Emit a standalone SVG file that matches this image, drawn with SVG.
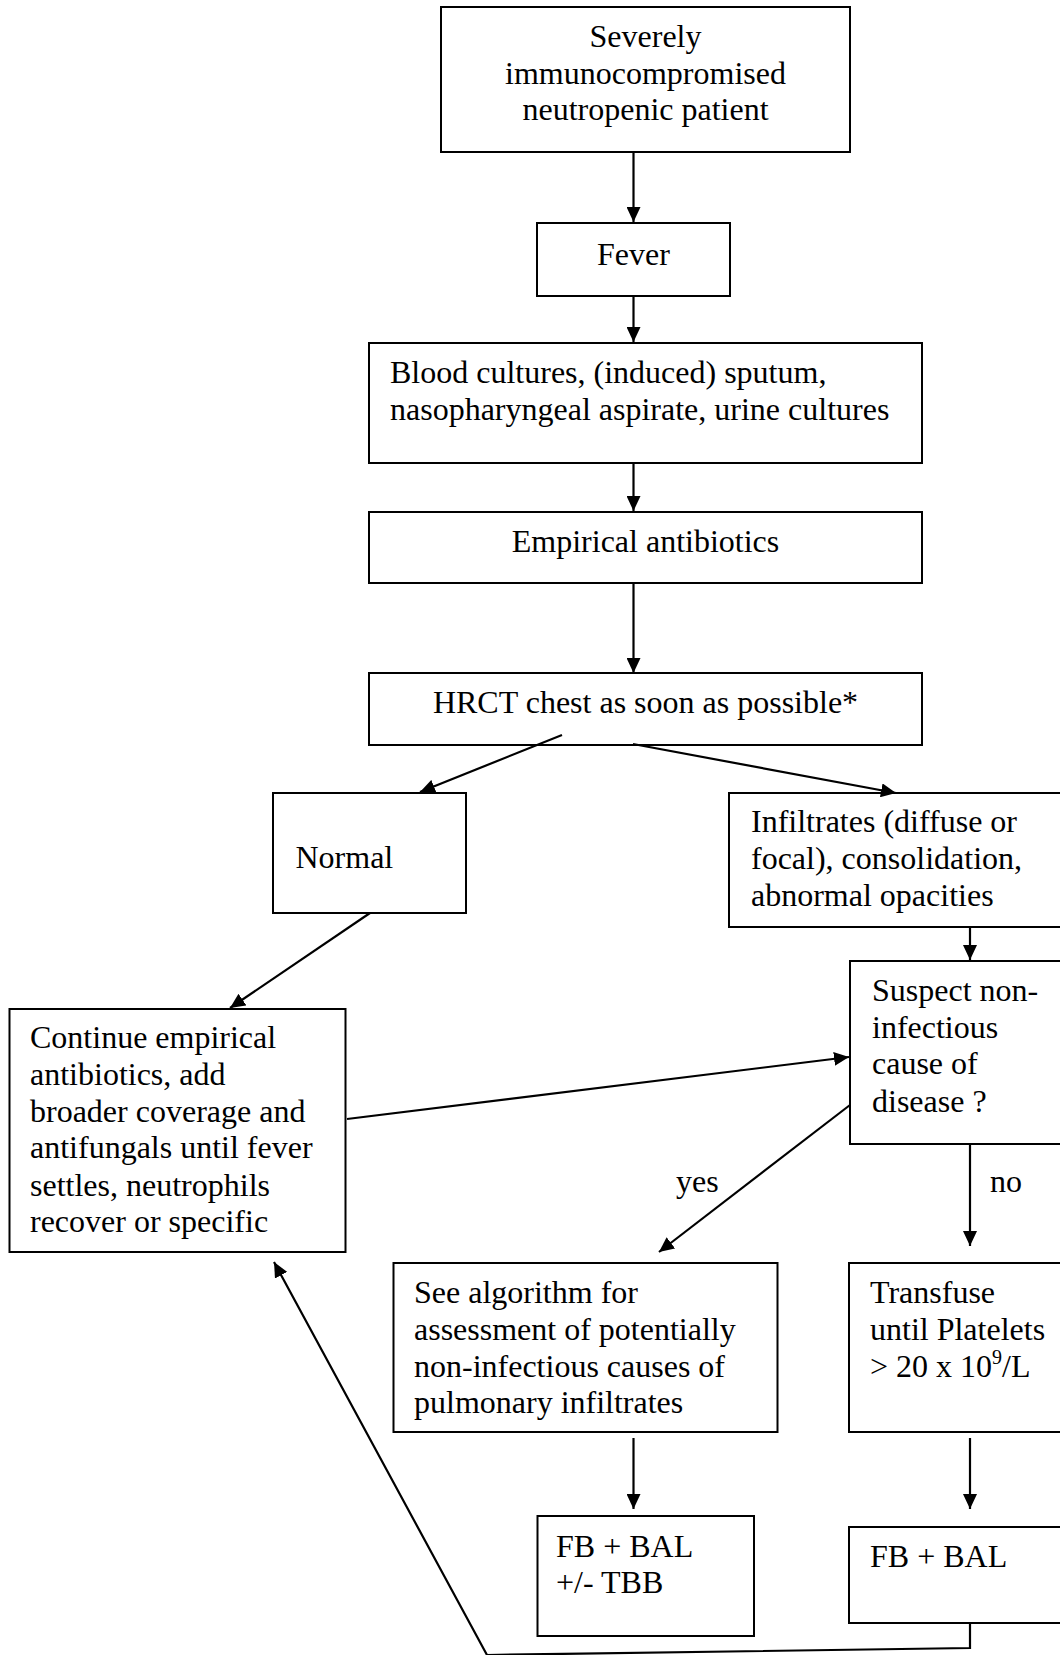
<svg xmlns="http://www.w3.org/2000/svg" width="1060" height="1655" viewBox="0 0 1060 1655">
<style>
.box{fill:#fff;stroke:#000;stroke-width:2}
.t{font-family:"Liberation Serif","Times New Roman",serif;font-size:32px;fill:#000}
.c{text-anchor:middle}
.ln{fill:none;stroke:#000;stroke-width:2.2}
</style>
<defs>
<marker id="ah" markerWidth="15" markerHeight="14" refX="15" refY="7" orient="auto" markerUnits="userSpaceOnUse">
<path d="M0,0 L15,7 L0,14 z" fill="#000"/>
</marker>
</defs>
<rect width="1060" height="1655" fill="#fff"/>
<g id="n-patient">
<rect class="box" x="441" y="7" width="409" height="145"/>
<text class="t c" x="645.5" y="47">Severely</text>
<text class="t c" x="645.5" y="84">immunocompromised</text>
<text class="t c" x="645.5" y="120">neutropenic patient</text>
</g>
<g id="n-fever">
<rect class="box" x="537" y="223" width="193" height="73"/>
<text class="t c" x="633.5" y="265">Fever</text>
</g>
<g id="n-cultures">
<rect class="box" x="369" y="343" width="553" height="120"/>
<text class="t" x="390" y="383">Blood cultures, (induced) sputum,</text>
<text class="t" x="390" y="420">nasopharyngeal aspirate, urine cultures</text>
</g>
<g id="n-empirical">
<rect class="box" x="369" y="512" width="553" height="71"/>
<text class="t c" x="645.5" y="552">Empirical antibiotics</text>
</g>
<g id="n-hrct">
<rect class="box" x="369" y="673" width="553" height="72"/>
<text class="t c" x="645.5" y="713">HRCT chest as soon as possible*</text>
</g>
<g id="n-normal">
<rect class="box" x="273" y="793" width="193" height="120"/>
<text class="t" x="295.5" y="868">Normal</text>
</g>
<g id="n-infiltrates">
<rect class="box" x="729" y="793" width="351" height="134"/>
<text class="t" x="751" y="832">Infiltrates (diffuse or</text>
<text class="t" x="751" y="869">focal), consolidation,</text>
<text class="t" x="751" y="906">abnormal opacities</text>
</g>
<g id="n-suspect">
<rect class="box" x="850" y="961" width="230" height="183"/>
<text class="t" x="872" y="1001">Suspect non-</text>
<text class="t" x="872" y="1038">infectious</text>
<text class="t" x="872" y="1074">cause of</text>
<text class="t" x="872" y="1112">disease ?</text>
</g>
<g id="n-continue">
<rect class="box" x="9.5" y="1009" width="336" height="243"/>
<text class="t" x="30" y="1048">Continue empirical</text>
<text class="t" x="30" y="1085">antibiotics, add</text>
<text class="t" x="30" y="1122">broader coverage and</text>
<text class="t" x="30" y="1158">antifungals until fever</text>
<text class="t" x="30" y="1196">settles, neutrophils</text>
<text class="t" x="30" y="1232">recover or specific</text>
</g>
<g id="n-algorithm">
<rect class="box" x="393.5" y="1263" width="384" height="169"/>
<text class="t" x="414" y="1303">See algorithm for</text>
<text class="t" x="414" y="1340">assessment of potentially</text>
<text class="t" x="414" y="1377">non-infectious causes of</text>
<text class="t" x="414" y="1413">pulmonary infiltrates</text>
</g>
<g id="n-transfuse">
<rect class="box" x="849" y="1263" width="231" height="169"/>
<text class="t" x="870" y="1303">Transfuse</text>
<text class="t" x="870" y="1340">until Platelets</text>
<text class="t" x="870" y="1377">&gt; 20 x 10<tspan font-size="20" dy="-13">9</tspan><tspan dy="13">/L</tspan></text>
</g>
<g id="n-fbbal-tbb">
<rect class="box" x="537.5" y="1516" width="216.5" height="120"/>
<text class="t" x="556" y="1557">FB + BAL</text>
<text class="t" x="556" y="1593">+/- TBB</text>
</g>
<g id="n-fbbal">
<rect class="box" x="849" y="1527" width="231" height="96"/>
<text class="t" x="870" y="1567">FB + BAL</text>
</g>
<g id="connectors">
<line class="ln" x1="633.5" y1="152" x2="633.5" y2="222" marker-end="url(#ah)"/>
<line class="ln" x1="633.5" y1="296" x2="633.5" y2="342" marker-end="url(#ah)"/>
<line class="ln" x1="633.5" y1="463" x2="633.5" y2="511" marker-end="url(#ah)"/>
<line class="ln" x1="633.5" y1="583" x2="633.5" y2="673" marker-end="url(#ah)"/>
<line class="ln" x1="562" y1="735" x2="420" y2="792" marker-end="url(#ah)"/>
<line class="ln" x1="633" y1="744" x2="896" y2="793" marker-end="url(#ah)"/>
<line class="ln" x1="370" y1="913" x2="230" y2="1008" marker-end="url(#ah)"/>
<line class="ln" x1="970" y1="927" x2="970" y2="960" marker-end="url(#ah)"/>
<line class="ln" x1="347" y1="1119" x2="849" y2="1057" marker-end="url(#ah)"/>
<line class="ln" x1="850" y1="1105" x2="659" y2="1252" marker-end="url(#ah)"/>
<line class="ln" x1="970" y1="1144" x2="970" y2="1246" marker-end="url(#ah)"/>
<line class="ln" x1="633.5" y1="1438" x2="633.5" y2="1509" marker-end="url(#ah)"/>
<line class="ln" x1="970" y1="1438" x2="970" y2="1509" marker-end="url(#ah)"/>
<polyline class="ln" points="970,1623 970,1648 487,1655 274,1262" marker-end="url(#ah)"/>
<text class="t" x="676" y="1192">yes</text>
<text class="t" x="990" y="1192">no</text>
</g>
</svg>
